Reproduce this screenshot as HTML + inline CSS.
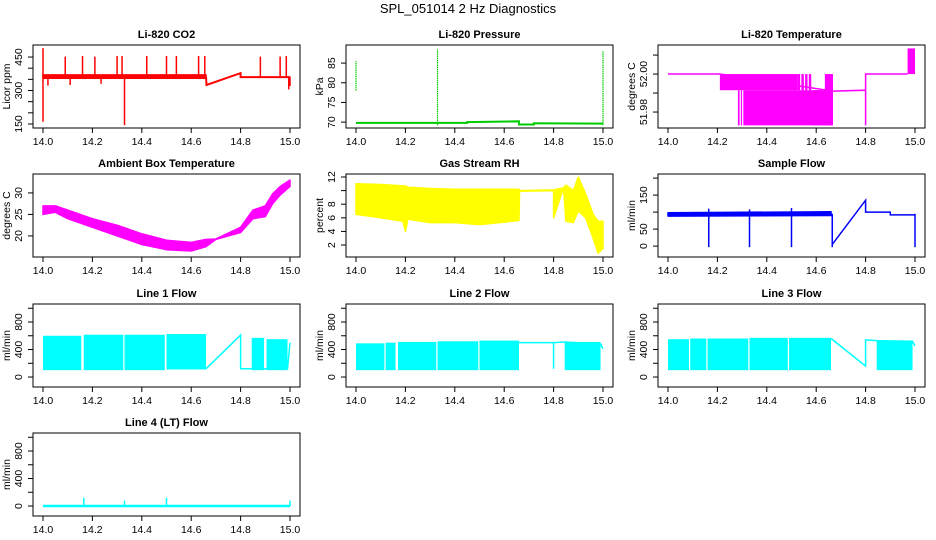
<!DOCTYPE html>
<html><head><meta charset="utf-8">
<style>
html,body{margin:0;padding:0;background:#fff;}
svg{display:block;font-family:"Liberation Sans",sans-serif;}
</style></head>
<body>
<svg id="chart" width="936" height="540" viewBox="0 0 936 540">
<text x="468" y="13" font-size="13" text-anchor="middle">SPL_051014  2 Hz Diagnostics</text>
</svg>
<script>
// ---- shared x axis ----
const xTicks = [14.0, 14.2, 14.4, 14.6, 14.8, 15.0];
const xTickLabels = ["14.0", "14.2", "14.4", "14.6", "14.8", "15.0"];

// ---- Li-820 CO2 ----
const co2BandX = [14.0, 14.66];
const co2BandLo = [355, 355];
const co2BandHi = [370, 370];
const co2LineX = [14.66, 14.662, 14.8, 14.8, 15.0];
const co2LineY = [362, 325, 378, 360, 360];
const co2SpikeX = [14.0, 14.09, 14.16, 14.21, 14.3, 14.32, 14.42, 14.5, 14.54, 14.63, 14.655, 14.88, 14.96, 14.985, 14.0, 14.33, 14.02, 14.11, 14.235, 15.0, 14.995];
const co2SpikeY = [490, 452, 455, 452, 455, 455, 455, 455, 455, 455, 455, 452, 452, 455, 160, 145, 322, 325, 330, 320, 305];

// ---- Li-820 Pressure ----
const presLineX = [14.0, 14.45, 14.45, 14.66, 14.66, 14.72, 14.72, 15.0];
const presLineY = [69.8, 69.8, 70.0, 70.2, 69.4, 69.4, 69.7, 69.6];
const presSpikeX = [14.0, 14.33, 15.0];
const presSpikeLo = [78, 69.2, 69.2];
const presSpikeHi = [85.5, 88.5, 88];

// ---- Li-820 Temperature ----
const tempRectX0 = [14.21, 14.283, 14.295, 14.305, 14.525, 14.54, 14.555, 14.57, 14.585, 14.635];
const tempRectX1 = [14.525, 14.29, 14.3, 14.665, 14.535, 14.55, 14.565, 14.58, 14.665, 14.668];
const tempRectLo = [51.9915, 51.973, 51.973, 51.973, 51.9915, 51.9915, 51.9915, 51.9915, 51.973, 51.973];
const tempRectHi = [52.0, 51.9915, 51.9915, 51.9915, 52.0, 52.0, 52.0, 52.0, 51.9915, 52.0];
const tempLineX = [14.0, 14.21, 14.668, 14.8, 14.8, 14.8, 14.97];
const tempLineY = [52.0, 52.0, 51.991, 51.9915, 51.973, 52.0, 52.0];
const tempTopX0 = [14.97];
const tempTopX1 = [15.0];
const tempTopLo = [52.0];
const tempTopHi = [52.0135];

// ---- Ambient Box Temperature ----
const ambX = [14.0, 14.05, 14.1, 14.2, 14.3, 14.4, 14.5, 14.6, 14.66, 14.7, 14.8, 14.85, 14.9, 14.93, 14.96, 15.0];
const ambLo = [25.0, 25.5, 24.0, 22.0, 20.0, 18.0, 16.8, 16.5, 17.5, 19.2, 20.8, 24.0, 24.5, 27.5, 29.5, 31.5];
const ambHi = [27.0, 27.0, 26.0, 24.0, 22.5, 20.5, 19.0, 18.5, 19.2, 19.3, 22.0, 26.0, 27.0, 29.8, 31.5, 33.0];

// ---- Gas Stream RH ----
const rhX = [14.0, 14.1, 14.19, 14.2, 14.21, 14.3, 14.4, 14.5, 14.66, 14.662, 14.8, 14.8, 14.84, 14.85, 14.88, 14.9, 14.93, 14.96, 14.98, 15.0];
const rhLo = [6.5, 6.0, 5.5, 4.0, 5.8, 5.3, 5.3, 5.0, 5.6, 9.9, 10.0, 6.0, 10.4, 5.5, 5.3, 7.0, 6.0, 3.0, 0.8, 1.5];
const rhHi = [11.0, 10.9, 10.7, 10.7, 10.5, 10.3, 10.2, 10.2, 10.2, 10.0, 10.1, 10.1, 10.4, 10.8, 10.0, 12.0, 9.5, 6.5, 5.5, 5.5];

// ---- Sample Flow ----
const sfBandX = [14.0, 14.66];
const sfBandLo = [88, 90];
const sfBandHi = [98, 101];
const sfLineX = [14.665, 14.8, 14.8, 14.9, 14.9, 15.0];
const sfLineY = [5, 135, 100, 100, 92, 92];
const sfDropX = [14.165, 14.33, 14.5, 14.665, 15.0];
const sfDropLo = [-3, -3, -3, -3, -3];
const sfSpikeX = [14.165, 14.33, 14.5];
const sfSpikeHi = [110, 108, 112];

// ---- Line 1 Flow ----
const l1X0 = [14.0, 14.165, 14.33, 14.5, 14.845, 14.905];
const l1X1 = [14.155, 14.325, 14.493, 14.66, 14.895, 14.99];
const l1Lo = [100, 100, 100, 110, 100, 100];
const l1Hi = [600, 615, 615, 625, 570, 550];
const l1LineX = [14.66, 14.8, 14.8, 14.845, 14.99, 15.0];
const l1LineY = [120, 610, 120, 120, 120, 500];

// ---- Line 2 Flow ----
const l2X0 = [14.0, 14.12, 14.17, 14.33, 14.5, 14.845];
const l2X1 = [14.115, 14.16, 14.325, 14.495, 14.66, 14.99];
const l2Lo = [100, 100, 100, 100, 100, 100];
const l2Hi = [490, 500, 510, 520, 530, 510];
const l2LineX = [14.66, 14.8, 14.8, 14.8, 14.845, 14.99, 15.0];
const l2LineY = [500, 500, 120, 500, 510, 480, 410];

// ---- Line 3 Flow ----
const l3X0 = [14.0, 14.09, 14.16, 14.33, 14.49, 14.845];
const l3X1 = [14.085, 14.155, 14.325, 14.485, 14.66, 14.99];
const l3Lo = [100, 100, 100, 100, 100, 100];
const l3Hi = [550, 560, 560, 570, 570, 530];
const l3LineX = [14.66, 14.8, 14.8, 14.845, 14.99, 15.0];
const l3LineY = [560, 160, 540, 530, 520, 450];

// ---- Line 4 Flow ----
const l4LineX = [14.0, 15.0];
const l4LineY = [0, 0];
const l4SpikeX = [14.165, 14.33, 14.5, 15.0];
const l4SpikeY = [120, 80, 120, 80];

const NS = "http://www.w3.org/2000/svg";
const svg = document.getElementById("chart");
const colLeft = [33, 346, 658];
const rowTop = [45, 174, 304, 433];
const BW = 267, BH = 83;

function mk(tag, attrs, parent) {
  const e = document.createElementNS(NS, tag);
  for (const k in attrs) e.setAttribute(k, attrs[k]);
  (parent || svg).appendChild(e);
  return e;
}

function panel(col, row, key, title, ylab, yMin, yMax, yTicks, yLabels) {
  const L = colLeft[col], T = rowTop[row];
  const g = mk("g", {});
  
  
  const xs = v => L + 10 + (v - 14) * 247;
  const ys = v => T + BH - (v - yMin) / (yMax - yMin) * BH;
  const box = mk("rect", {x: L, y: T, width: BW, height: BH, fill: "none", stroke: "#000", "stroke-width": 1}, g);
  
  
  const t = mk("text", {x: L + BW / 2, y: T - 7, "font-size": 11, "font-weight": "bold", "text-anchor": "middle"}, g);
  t.textContent = title;
  
  
  const xa = mk("g", {}, g);
  
  
  mk("line", {x1: xs(xTicks[0]), x2: xs(xTicks[xTicks.length - 1]), y1: T + BH, y2: T + BH, stroke: "#000"}, xa);
  xTicks.forEach((v, i) => {
    mk("line", {x1: xs(v), x2: xs(v), y1: T + BH, y2: T + BH + 5, stroke: "#000"}, xa);
    const tl = mk("text", {x: xs(v), y: T + BH + 17, "font-size": 10.5, "text-anchor": "middle"}, xa);
    tl.textContent = xTickLabels[i];
    
    
  });
  const ya = mk("g", {}, g);
  
  
  mk("line", {x1: L, x2: L, y1: ys(yTicks[0]), y2: ys(yTicks[yTicks.length - 1]), stroke: "#000"}, ya);
  yTicks.forEach((v, i) => {
    mk("line", {x1: L - 5, x2: L, y1: ys(v), y2: ys(v), stroke: "#000"}, ya);
    if (yLabels[i]) {
      const tl = mk("text", {x: 0, y: 0, "font-size": 10.5, "text-anchor": "middle", transform: `translate(${L - 11},${ys(v)}) rotate(-90)`}, ya);
      tl.textContent = yLabels[i];
      
      
    }
  });
  const yl = mk("text", {x: 0, y: 0, "font-size": 10.5, "text-anchor": "middle", transform: `translate(${L - 23},${T + BH / 2}) rotate(-90)`}, g);
  yl.textContent = ylab;
  
  
  return {g, xs, ys};
}

function band(p, X, Lo, Hi, color, name) {
  let d = "";
  X.forEach((x, i) => { d += (i ? "L" : "M") + p.xs(x) + "," + p.ys(Hi[i]); });
  for (let i = X.length - 1; i >= 0; i--) d += "L" + p.xs(X[i]) + "," + p.ys(Lo[i]);
  const e = mk("path", {d: d + "Z", fill: color, stroke: color, "stroke-width": 1.5, "stroke-linejoin": "round"}, p.g);
  
  
}
function rects(p, X0, X1, Lo, Hi, color, name) {
  X0.forEach((x, i) => {
    const e = mk("rect", {x: p.xs(x), y: p.ys(Hi[i]), width: Math.max(1, p.xs(X1[i]) - p.xs(x)), height: Math.max(1, p.ys(Lo[i]) - p.ys(Hi[i])), fill: color}, p.g);
    
    
  });
}
function line(p, X, Y, color, name, w, dash) {
  const pts = X.map((x, i) => p.xs(x) + "," + p.ys(Y[i])).join(" ");
  const a = {points: pts, fill: "none", stroke: color, "stroke-width": w || 1.5};
  if (dash) a["stroke-dasharray"] = dash;
  const e = mk("polyline", a, p.g);
  
  
}
function vsegs(p, X, Lo, Hi, color, name, w, dash) {
  X.forEach((x, i) => {
    const a = {x1: p.xs(x), x2: p.xs(x), y1: p.ys(Lo[i]), y2: p.ys(Hi[i]), stroke: color, "stroke-width": w || 1.5};
    if (dash) a["stroke-dasharray"] = dash;
    const e = mk("line", a, p.g);
    
    
  });
}

const RED = "#ff0000", GRN = "#00cc00", MAG = "#ff00ff", YEL = "#ffff00", BLU = "#0000ff", CYN = "#00ffff";
let p = panel(0, 0, "co2", "Li-820 CO2", "Licor ppm", 132, 504, [150, 200, 250, 300, 350, 400, 450], ["150", "", "", "300", "", "", "450"]);
band(p, co2BandX, co2BandLo, co2BandHi, RED, "co2-series");
line(p, co2LineX, co2LineY, RED, "co2-series-line", 2);
vsegs(p, co2SpikeX, co2SpikeX.map(() => 362), co2SpikeY, RED, "co2-spike", 1.5);

p = panel(1, 0, "pressure", "Li-820 Pressure", "kPa", 68.5, 89.6, [70, 75, 80, 85], ["70", "75", "80", "85"]);
line(p, presLineX, presLineY, GRN, "pressure-series", 2);
vsegs(p, presSpikeX, presSpikeLo, presSpikeHi, GRN, "pressure-spike", 1.2, "1.5,0.7");

p = panel(2, 0, "li820-temp", "Li-820 Temperature", "degrees C", 51.9716, 52.0153, [51.98, 51.99, 52.0, 52.01], ["51.98", "", "52.00", ""]);
rects(p, tempRectX0, tempRectX1, tempRectLo, tempRectHi, MAG, "li820-temp-band");
line(p, tempLineX, tempLineY, MAG, "li820-temp-series", 1.5);
rects(p, tempTopX0, tempTopX1, tempTopLo, tempTopHi, MAG, "li820-temp-band");

p = panel(0, 1, "ambient", "Ambient Box Temperature", "degrees C", 15.1, 34.4, [20, 25, 30], ["20", "25", "30"]);
band(p, ambX, ambLo, ambHi, MAG, "ambient-series");

p = panel(1, 1, "rh", "Gas Stream RH", "percent", 0.24, 12.44, [2, 4, 6, 8, 10, 12], ["2", "4", "6", "8", "", "12"]);
band(p, rhX, rhLo, rhHi, YEL, "rh-series");

p = panel(2, 1, "sample-flow", "Sample Flow", "ml/min", -32, 212, [0, 50, 100, 150, 200], ["0", "50", "", "150", ""]);
band(p, sfBandX, sfBandLo, sfBandHi, BLU, "sample-flow-series");
line(p, sfLineX, sfLineY, BLU, "sample-flow-line", 1.5);
vsegs(p, sfDropX, sfDropLo, sfDropX.map(() => 95), BLU, "sample-flow-drop", 1.5);
vsegs(p, sfSpikeX, sfSpikeX.map(() => 95), sfSpikeHi, BLU, "sample-flow-spike", 1.5);

const flowTicks = [0, 200, 400, 600, 800, 1000];
const flowLabels = ["0", "", "400", "", "800", ""];
p = panel(0, 2, "line1", "Line 1 Flow", "ml/min", -145, 1062, flowTicks, flowLabels);
rects(p, l1X0, l1X1, l1Lo, l1Hi, CYN, "line1-band");
line(p, l1LineX, l1LineY, CYN, "line1-series", 1.5);
p = panel(1, 2, "line2", "Line 2 Flow", "ml/min", -145, 1062, flowTicks, flowLabels);
rects(p, l2X0, l2X1, l2Lo, l2Hi, CYN, "line2-band");
line(p, l2LineX, l2LineY, CYN, "line2-series", 1.5);
p = panel(2, 2, "line3", "Line 3 Flow", "ml/min", -145, 1062, flowTicks, flowLabels);
rects(p, l3X0, l3X1, l3Lo, l3Hi, CYN, "line3-band");
line(p, l3LineX, l3LineY, CYN, "line3-series", 1.5);
p = panel(0, 3, "line4", "Line 4 (LT) Flow", "ml/min", -145, 1062, flowTicks, flowLabels);
line(p, l4LineX, l4LineY, CYN, "line4-series", 2.5);
vsegs(p, l4SpikeX, l4SpikeX.map(() => 0), l4SpikeY, CYN, "line4-spike", 1.5);
</script>
</body></html>
